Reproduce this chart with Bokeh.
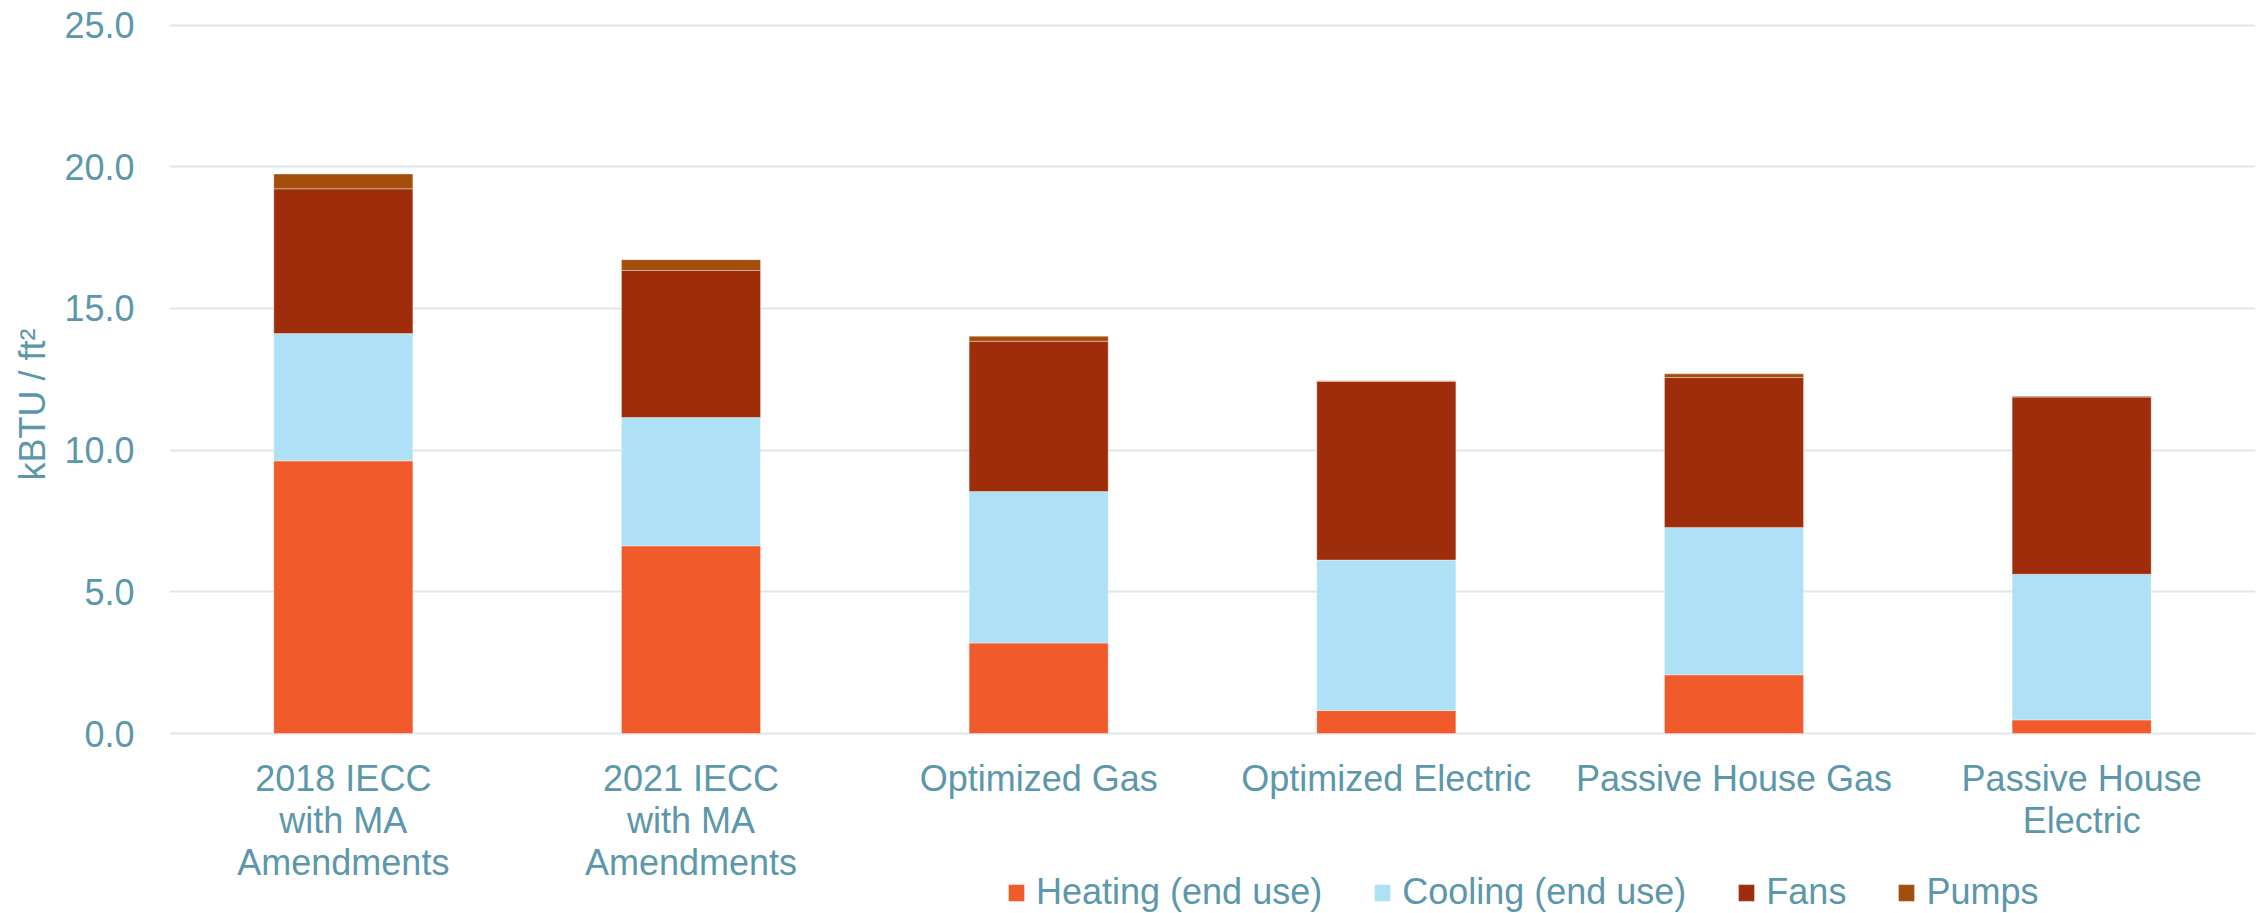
from bokeh.plotting import figure
from bokeh.models import (Range1d, FixedTicker, PrintfTickFormatter, Legend,
                          LegendItem, Title, ColumnDataSource)
from bokeh.core.properties import value
from bokeh.embed import file_html
from bokeh.resources import INLINE

categories = ["2018 IECC\nwith MA\nAmendments", "2021 IECC\nwith MA\nAmendments",
              "Optimized Gas", "Optimized Electric", "Passive House Gas",
              "Passive House\nElectric"]
heating = [9.62, 6.62, 3.19, 0.81, 2.07, 0.48]
cooling = [4.49, 4.53, 5.35, 5.31, 5.20, 5.14]
fans = [5.11, 5.19, 5.30, 6.30, 5.29, 6.25]
pumps = [0.52, 0.38, 0.18, 0.03, 0.13, 0.03]
series_names = ["Heating (end use)", "Cooling (end use)", "Fans", "Pumps"]
y_ticks = [0, 5, 10, 15, 20, 25]

colors = ["#F15A2B", "#AEE1F5", "#9E2D0B", "#A44E0C"]
TEXT = "#5C97AA"
FONT = "Liberation Sans"

# pixel scale of the value axis (px per unit) and the layout around it
PX = 28.34
TOP_PAD = 1.5      # px above the 25.0 gridline inside the frame
BOTTOM_PAD = 180   # px below the 0.0 gridline (category labels + legend)

source = ColumnDataSource({"cat": categories, "h": heating, "c": cooling,
                           "f": fans, "p": pumps})

p = figure(x_range=categories,
           y_range=Range1d(-BOTTOM_PAD / PX, y_ticks[-1] + TOP_PAD / PX),
           width=2262, height=913, output_backend="svg", toolbar_location=None,
           min_border_left=169, min_border_right=7, min_border_top=23,
           min_border_bottom=0)
p.outline_line_color = None
p.background_fill_color = "white"

renderers = p.vbar_stack(["h", "c", "f", "p"], x="cat", width=0.4, source=source,
                         color=colors, line_color="white", line_alpha=0.35,
                         line_width=1)

# category labels (drawn under the 0 line, inside the frame)
p.text(x="cat", y=0, text="cat", source=source, y_offset=24,
       text_align="center", text_baseline="top", text_line_height=1.03,
       text_font=value(FONT), text_font_size="36px", text_color=TEXT)

p.xaxis.visible = False
p.xgrid.grid_line_color = None
p.ygrid.grid_line_color = "#DCE8ED"
p.ygrid.grid_line_width = 2
p.ygrid.ticker = FixedTicker(ticks=y_ticks)

p.yaxis.ticker = FixedTicker(ticks=y_ticks)
p.yaxis.formatter = PrintfTickFormatter(format="%.1f")
p.yaxis.axis_line_color = None
p.yaxis.major_tick_line_color = None
p.yaxis.minor_tick_line_color = None
p.yaxis.major_tick_out = 0
p.yaxis.major_tick_in = 0
p.yaxis.major_label_text_font = FONT
p.yaxis.major_label_text_font_size = "36px"
p.yaxis.major_label_text_color = TEXT
p.yaxis.major_label_standoff = 35

ytitle = Title(text="kBTU / ft²", align="left", offset=433, standoff=18,
               text_font=FONT, text_font_size="36px", text_font_style="normal",
               text_color=TEXT)
p.add_layout(ytitle, "left")

items = [LegendItem(label=n, renderers=[r]) for n, r in zip(series_names, renderers)]
lg = Legend(items=items, orientation="horizontal", location=(837, 0),
            border_line_color=None, background_fill_alpha=0, padding=0,
            margin=0, spacing=50, glyph_width=20, glyph_height=21,
            label_standoff=10, label_text_font=FONT, label_text_font_size="36px",
            label_text_color=TEXT)
p.add_layout(lg, "center")

open("out.html", "w").write(file_html(p, INLINE))
